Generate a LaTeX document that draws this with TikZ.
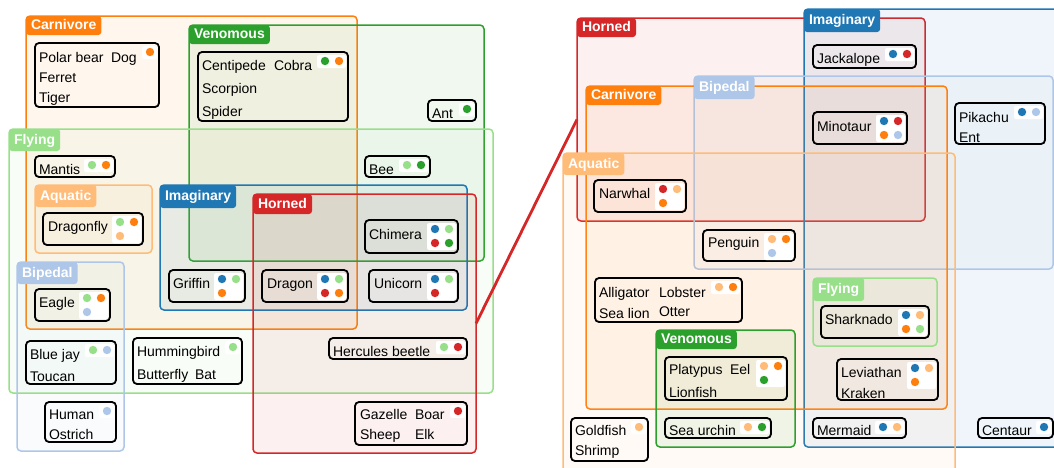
\documentclass[tikz,border=0pt]{standalone}
\usepackage{fontspec}
\setmainfont{Liberation Sans}
\usetikzlibrary{calc}
\definecolor{cB}{HTML}{1F77B4}
\definecolor{cLB}{HTML}{AEC7E8}
\definecolor{cO}{HTML}{FF7F0E}
\definecolor{cLO}{HTML}{FFBB78}
\definecolor{cG}{HTML}{2CA02C}
\definecolor{cLG}{HTML}{98DF8A}
\definecolor{cR}{HTML}{D62728}
\tikzset{
  setrect/.style={rounded corners=4pt, line width=1.5pt, inner sep=0pt, outer sep=0pt, anchor=north west, fill opacity=0.07},
  settab/.style={rounded corners=3pt, inner xsep=5pt, inner ysep=0pt, outer sep=0pt, anchor=north west, text=white,
    font=\bfseries\fontsize{14}{16}\selectfont, text height=10.5pt, text depth=2.5pt},
  itembox/.style={draw=black, line width=1.8pt, rounded corners=4pt, inner sep=0pt, outer sep=0pt, anchor=north west},
  itxt/.style={font=\fontsize{14}{16}\selectfont, inner sep=0pt, outer sep=0pt, anchor=base west},
  link/.style={draw=cR, line width=2.8pt}
}
\newcommand{\vset}[6]{\node[setrect, draw=#2, fill=#2, minimum width={#5pt-#3pt}, minimum height={#6pt-#4pt}] (#1) at (#3,#4) {};}
\newcommand{\vtab}[6]{\node[settab, fill=#2, minimum height=#5pt] (#1) at (#3,#4) {#6};}
\newcommand{\vitem}[5]{\node[itembox, minimum width={#4pt-#2pt}, minimum height={#5pt-#3pt}] (#1) at (#2,#3) {};}
\newcommand{\dA}[2]{\fill[white,rounded corners=2pt] ($(#1.north east)+(-17,3)$) rectangle ($(#1.north east)+(-2,16)$);
  \fill[#2] ($(#1.north east)+(-9,9)$) circle[radius=4.2pt];}
\newcommand{\dB}[3]{\fill[white,rounded corners=2pt] ($(#1.north east)+(-31,3)$) rectangle ($(#1.north east)+(-2,16)$);
  \fill[#2] ($(#1.north east)+(-23,9)$) circle[radius=4.2pt];
  \fill[#3] ($(#1.north east)+(-9,9)$) circle[radius=4.2pt];}
\newcommand{\dC}[4]{\fill[white,rounded corners=2pt] ($(#1.north east)+(-31,3)$) rectangle ($(#1.north east)+(-2,30)$);
  \fill[#2] ($(#1.north east)+(-23,9)$) circle[radius=4.2pt];
  \fill[#3] ($(#1.north east)+(-9,9)$) circle[radius=4.2pt];
  \fill[#4] ($(#1.north east)+(-23,23)$) circle[radius=4.2pt];}
\newcommand{\dD}[5]{\fill[white,rounded corners=2pt] ($(#1.north east)+(-31,3)$) rectangle ($(#1.north east)+(-2,30)$);
  \fill[#2] ($(#1.north east)+(-23,9)$) circle[radius=4.2pt];
  \fill[#3] ($(#1.north east)+(-9,9)$) circle[radius=4.2pt];
  \fill[#4] ($(#1.north east)+(-23,23)$) circle[radius=4.2pt];
  \fill[#5] ($(#1.north east)+(-9,23)$) circle[radius=4.2pt];}
\begin{document}
\begin{tikzpicture}[x=1pt,y=-1pt]
\useasboundingbox (0,0) rectangle (1054,467);
\clip (0,0) rectangle (1054,467);
% ---------- left diagram: sets ----------
\vset{carn1}{cO}{26}{16}{357}{329}
\vset{ven1}{cG}{189}{25}{484}{261}
\vset{fly1}{cLG}{9}{129}{493}{393}
\vset{aq1}{cLO}{35}{185}{152}{253}
\vset{imag1}{cB}{160}{185}{467}{310}
\vset{horn1}{cR}{253}{194}{476}{453}
\vset{bip1}{cLB}{17}{262}{124}{451}
% ---------- right diagram: sets ----------
\vset{horn2}{cR}{577}{18}{925}{221}
\vset{imag2}{cB}{804}{9}{1070}{447}
\vset{bip2}{cLB}{694}{76}{1053}{269}
\vset{carn2}{cO}{586}{86}{947}{409}
\vset{aq2}{cLO}{563}{153}{955}{480}
\vset{fly2}{cLG}{813}{278}{937}{346}
\vset{ven2}{cG}{656}{330}{795}{447}
% ---------- left items ----------
\vitem{polarB}{35}{43}{159}{107} \dA{polarB}{cO}
\node[itxt] (polar1) at (39,62) {Polar bear};
\node[itxt] (polar2) at (111,62) {Dog};
\node[itxt] (polar3) at (39,82) {Ferret};
\node[itxt] (polar4) at (39,102) {Tiger};
\vitem{centiB}{198}{52}{348}{121} \dB{centiB}{cG}{cO}
\node[itxt] (centi1) at (202,70) {Centipede};
\node[itxt] (centi2) at (274,70) {Cobra};
\node[itxt] (centi3) at (202,93) {Scorpion};
\node[itxt] (centi4) at (202,116) {Spider};
\vitem{antB}{428}{100}{476}{121} \dA{antB}{cG}
\node[itxt] (ant1) at (432,118) {Ant};
\vitem{mantisB}{35}{156}{115}{177} \dB{mantisB}{cLG}{cO}
\node[itxt] (mantis1) at (39,174) {Mantis};
\vitem{beeB}{365}{156}{430}{177} \dB{beeB}{cLG}{cG}
\node[itxt] (bee1) at (369,174) {Bee};
\vitem{dragonflyB}{43}{213}{143}{245} \dC{dragonflyB}{cLG}{cO}{cLO}
\node[itxt] (dragonfly1) at (48,231) {Dragonfly};
\vitem{chimeraB}{365}{220}{458}{253} \dD{chimeraB}{cB}{cLG}{cR}{cG}
\node[itxt] (chimera1) at (369,239) {Chimera};
\vitem{griffinB}{169}{270}{245}{302} \dC{griffinB}{cB}{cLG}{cO}
\node[itxt] (griffin1) at (173,288) {Griffin};
\vitem{dragonB}{262}{270}{348}{302} \dD{dragonB}{cB}{cLG}{cR}{cO}
\node[itxt] (dragon1) at (267,288) {Dragon};
\vitem{unicornB}{369}{270}{458}{302} \dC{unicornB}{cB}{cLG}{cR}
\node[itxt] (unicorn1) at (374,288) {Unicorn};
\vitem{eagleB}{35}{289}{110}{321} \dC{eagleB}{cLG}{cO}{cLB}
\node[itxt] (eagle1) at (39,307) {Eagle};
\vitem{bluejayB}{26}{341}{116}{384} \dB{bluejayB}{cLG}{cLB}
\node[itxt] (bluejay1) at (30,359) {Blue jay};
\node[itxt] (bluejay2) at (30,381) {Toucan};
\vitem{hummB}{133}{338}{242}{384} \dA{hummB}{cLG}
\node[itxt] (humm1) at (137,356) {Hummingbird};
\node[itxt] (humm2) at (137,379) {Butterfly};
\node[itxt] (humm3) at (195,379) {Bat};
\vitem{hercB}{329}{338}{467}{359} \dB{hercB}{cLG}{cR}
\node[itxt] (herc1) at (333,356) {Hercules beetle};
\vitem{humanB}{45}{402}{116}{442} \dA{humanB}{cLB}
\node[itxt] (human1) at (49,419) {Human};
\node[itxt] (human2) at (49,439) {Ostrich};
\vitem{gazelleB}{355}{402}{467}{445} \dA{gazelleB}{cR}
\node[itxt] (gazelle1) at (360,419) {Gazelle};
\node[itxt] (gazelle2) at (415,419) {Boar};
\node[itxt] (gazelle3) at (360,439) {Sheep};
\node[itxt] (gazelle4) at (415,439) {Elk};
% ---------- right items ----------
\vitem{jackB}{813}{45}{916}{68} \dB{jackB}{cB}{cR}
\node[itxt] (jack1) at (817,63) {Jackalope};
\vitem{minoB}{813}{112}{907}{144} \dD{minoB}{cB}{cR}{cO}{cLB}
\node[itxt] (mino1) at (817,131) {Minotaur};
\vitem{pikaB}{955}{103}{1045}{144} \dB{pikaB}{cB}{cLB}
\node[itxt] (pika1) at (959,122) {Pikachu};
\node[itxt] (pika2) at (959,142) {Ent};
\vitem{narwB}{594}{180}{686}{212} \dC{narwB}{cR}{cLO}{cO}
\node[itxt] (narw1) at (599,198) {Narwhal};
\vitem{pengB}{703}{230}{795}{261} \dC{pengB}{cLO}{cO}{cLB}
\node[itxt] (peng1) at (708,247) {Penguin};
\vitem{alliB}{595}{278}{742}{322} \dB{alliB}{cLO}{cO}
\node[itxt] (alli1) at (599,297) {Alligator};
\node[itxt] (alli2) at (659,297) {Lobster};
\node[itxt] (alli3) at (599,318) {Sea lion};
\node[itxt] (alli4) at (659,316) {Otter};
\vitem{sharkB}{821}{306}{929}{338} \dD{sharkB}{cB}{cLO}{cO}{cLG}
\node[itxt] (shark1) at (825,324) {Sharknado};
\vitem{platyB}{665}{357}{787}{400} \dC{platyB}{cLO}{cO}{cG}
\node[itxt] (platy1) at (669,374) {Platypus};
\node[itxt] (platy2) at (730,374) {Eel};
\node[itxt] (platy3) at (669,397) {Lionfish};
\vitem{leviB}{837}{359}{938}{400} \dC{leviB}{cB}{cLO}{cO}
\node[itxt] (levi1) at (841,377) {Leviathan};
\node[itxt] (levi2) at (841,398) {Kraken};
\vitem{goldB}{571}{418}{648}{461} \dA{goldB}{cLO}
\node[itxt] (gold1) at (575,435) {Goldfish};
\node[itxt] (gold2) at (575,455) {Shrimp};
\vitem{urchinB}{665}{418}{771}{438} \dB{urchinB}{cLO}{cG}
\node[itxt] (urchin1) at (669,435) {Sea urchin};
\vitem{mermB}{813}{418}{906}{438} \dB{mermB}{cB}{cLO}
\node[itxt] (merm1) at (817,435) {Mermaid};
\vitem{centB}{978}{418}{1053}{438} \dA{centB}{cB}
\node[itxt] (cent1) at (982,435) {Centaur};
% ---------- tabs ----------
\vtab{carn1T}{cO}{26}{16}{19}{Carnivore}
\vtab{ven1T}{cG}{189}{25}{19}{Venomous}
\vtab{fly1T}{cLG}{9}{129}{22}{Flying}
\vtab{aq1T}{cLO}{35}{185}{22}{Aquatic}
\vtab{imag1T}{cB}{160}{185}{23}{Imaginary}
\vtab{horn1T}{cR}{253}{194}{20}{Horned}
\vtab{bip1T}{cLB}{17}{262}{22}{Bipedal}
\vtab{horn2T}{cR}{577}{18}{19}{Horned}
\vtab{imag2T}{cB}{804}{9}{23}{Imaginary}
\vtab{bip2T}{cLB}{694}{76}{23}{Bipedal}
\vtab{carn2T}{cO}{586}{86}{19}{Carnivore}
\vtab{aq2T}{cLO}{563}{153}{22}{Aquatic}
\vtab{fly2T}{cLG}{813}{278}{23}{Flying}
\vtab{ven2T}{cG}{656}{330}{19}{Venomous}
% ---------- connector ----------
\draw[link] (horn1.east) -- (horn2.west);
\end{tikzpicture}
\end{document}
